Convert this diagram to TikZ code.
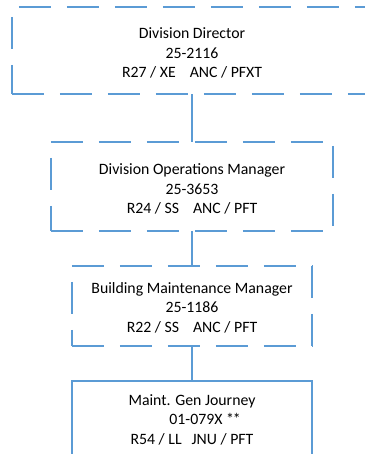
\documentclass[tikz,border=0pt]{standalone}
\usepackage{fontspec}
\setmainfont{Carlito}
\definecolor{boxblue}{HTML}{5B9BD5}
\begin{document}
\begin{tikzpicture}[x=1pt,y=-1pt,
  side/.style={draw=boxblue,line width=1.7pt},
  dside/.style={side,dash pattern=on 32pt off 16pt},
  box/.style={inner sep=0pt},
  txt/.style={inner sep=0pt,align=center,font=\fontsize{15.8}{19.4}\selectfont,text=black},
  conn/.style={draw=boxblue,line width=1.7pt}]
\useasboundingbox (0,0) rectangle (364,454);
\node[box,minimum width=360pt,minimum height=87pt] (d) at (192,50.5) {};
\node[box,minimum width=282pt,minimum height=89pt] (m) at (192,186.5) {};
\node[box,minimum width=240pt,minimum height=80pt] (b) at (192,306) {};
\node[box,minimum width=240pt,minimum height=74pt] (j) at (192,418) {};
\node[txt] (dt) at ([yshift=-2.5pt]d.center)
  {Division Director\\25-2116\\R27 / XE\hspace{14pt}ANC / PFXT};
\node[txt] (mt) at ([yshift=-2.5pt]m.center)
  {Division Operations Manager\\25-3653\\R24 / SS\hspace{14pt}ANC / PFT};
\node[txt] (bt) at ([yshift=-1.5pt]b.center)
  {Building Maintenance Manager\\25-1186\\R22 / SS\hspace{14pt}ANC / PFT};
\node[txt] (jt) at ([yshift=-1.5pt]j.center)
  {Maint. Gen Journey\\\hspace*{26pt}01-079X *\kern-1.2pt*\\R54 / LL\hspace{10pt}JNU / PFT};
% box 1
\draw[dside,dash phase=41pt] (d.north west) -- (d.north east);
\draw[dside,dash phase=38pt] (d.north west) -- (d.south west);
\draw[dside] (d.south west) -- (d.south east);
% box 2
\draw[dside] (m.north west) -- (m.north east);
\draw[dside,dash phase=44pt] (m.north east) -- (m.south east);
\draw[dside] (m.south west) -- (m.south east);
\draw[dside,dash phase=32pt] (m.north west) -- (m.south west);
% box 3
\draw[dside] (b.north west) -- (b.north east);
\draw[dside] (b.north east) -- (b.south east);
\draw[dside] (b.south west) -- (b.south east);
\draw[dside,dash phase=32pt] (b.north west) -- (b.south west);
% box 4
\draw[side] (j.south west) -- (j.north west) -- (j.north east) -- (j.south east);
% connectors
\draw[conn] (d.south) -- (m.north);
\draw[conn] (m.south) -- (b.north);
\draw[conn] (b.south) -- (j.north);
\end{tikzpicture}
\end{document}
